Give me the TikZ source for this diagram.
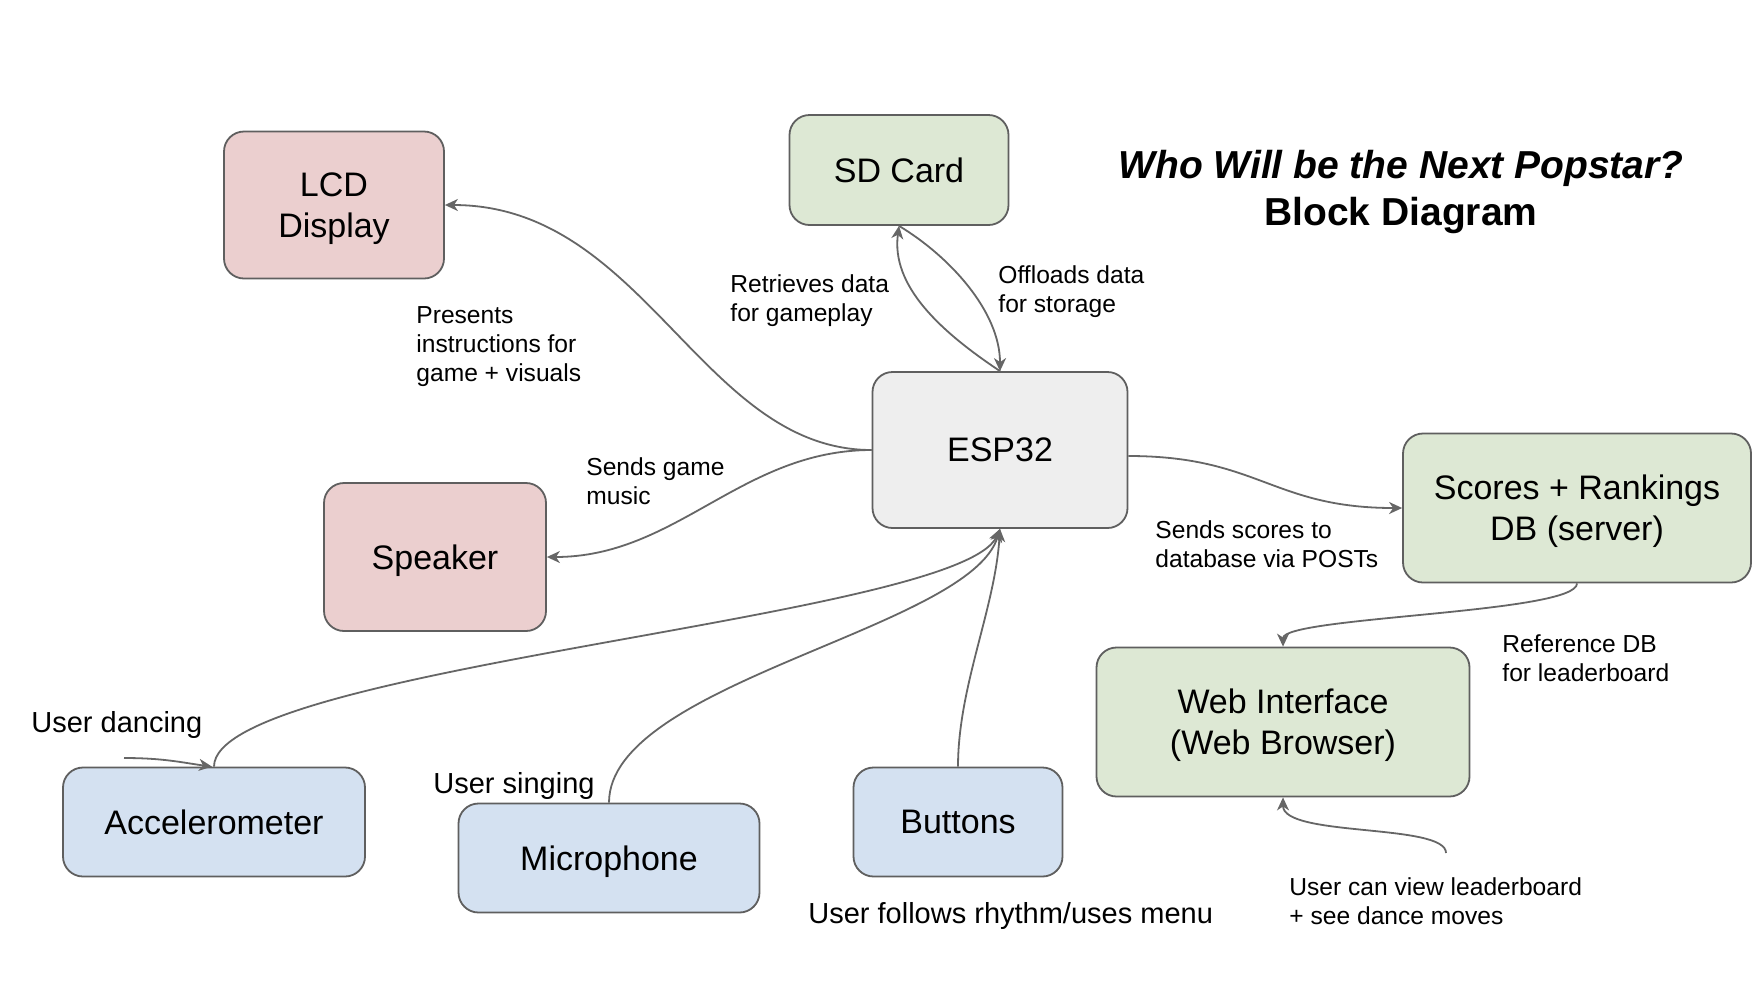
\documentclass[tikz,border=0pt]{standalone}
\usepackage{fontspec}
\setmainfont{Liberation Sans}
\usetikzlibrary{arrows.meta}
\definecolor{pinkfill}{HTML}{EBCFCF}
\definecolor{greenfill}{HTML}{DDE8D4}
\definecolor{bluefill}{HTML}{D4E1F1}
\definecolor{grayfill}{HTML}{EEEEEE}
\definecolor{boxline}{HTML}{5F5F5F}
\definecolor{connline}{HTML}{666666}
\begin{document}
\begin{tikzpicture}[x=0.5pt,y=-0.5pt,
  box/.style={draw=boxline, line width=0.9pt, rounded corners=10pt, inner sep=0pt, align=center,
    text depth=0pt, font=\fontsize{17}{20.5}\selectfont},
  conn/.style={draw=connline, line width=0.9pt, -{Stealth[length=6.5pt,width=6pt,inset=2pt]}},
  lbl/.style={align=left, inner sep=0pt, anchor=west, font=\fontsize{12.3}{14.6}\selectfont},
  ulbl/.style={align=left, inner sep=0pt, anchor=west, font=\fontsize{14.5}{17}\selectfont}]
\useasboundingbox (0,0) rectangle (1764,986);
\fill[white] (0,0) rectangle (1764,986);

% nodes
\node[box, fill=pinkfill, minimum width=110pt, minimum height=73.5pt] (lcd) at (334,205) {LCD\\Display};
\node[box, fill=greenfill, minimum width=109.5pt, minimum height=55pt] (sd) at (899,170) {SD Card};
\node[box, fill=grayfill, minimum width=127.5pt, minimum height=78pt] (esp) at (1000,450) {ESP32};
\node[box, fill=pinkfill, minimum width=111pt, minimum height=74pt] (spk) at (435,557) {Speaker};
\node[box, fill=greenfill, minimum width=174pt, minimum height=74.5pt] (db) at (1577,508) {Scores + Rankings\\DB (server)};
\node[box, fill=greenfill, minimum width=186.5pt, minimum height=74.5pt] (web) at (1283,722) {Web Interface\\(Web Browser)};
\node[box, fill=bluefill, minimum width=151pt, minimum height=54.5pt] (acc) at (214,822) {Accelerometer};
\node[box, fill=bluefill, minimum width=150.5pt, minimum height=54.5pt] (mic) at (609,858) {Microphone};
\node[box, fill=bluefill, minimum width=104.5pt, minimum height=54.5pt] (btn) at (958,822) {Buttons};

% title
\node[align=center, inner sep=0pt, font=\fontsize{19.5}{23.25}\selectfont\bfseries] (title) at (1401,192)
  {\itshape Who Will be the Next Popstar?\\Block Diagram};

% labels
\node[lbl] (lpres) at (416,346.5) {Presents\\instructions for\\game + visuals};
\node[lbl] (lret) at (730,301) {Retrieves data\\for gameplay};
\node[lbl] (loff) at (998,292) {Offloads data\\for storage};
\node[lbl] (lmus) at (586,481) {Sends game\\music};
\node[lbl] (lpost) at (1155,544.5) {Sends scores to\\database via POSTs};
\node[lbl] (lref) at (1502,658) {Reference DB\\for leaderboard};
\node[ulbl] (ldance) at (31,724.5) {User dancing};
\node[ulbl] (lsing) at (433,785.5) {User singing};
\node[ulbl] (lbtn) at (808,915.5) {User follows rhythm/uses menu};
\node[lbl] (lview) at (1289,901.5) {User can view leaderboard\\+ see dance moves};

\coordinate (dancein) at (124,758);
\coordinate (viewin) at (1446,853);

% connectors
\draw[conn] (esp.west) .. controls +(-170,0) and +(200,0) .. (lcd.east);
\draw[conn] (esp.west) .. controls +(-130,0) and +(130,0) .. (spk.east);
\draw[conn] (esp.north) .. controls +(-60,-40) and +(-8,60) .. (sd.south);
\draw[conn] (sd.south) .. controls +(50,30) and +(0,-60) .. (esp.north);
\draw[conn] ([yshift=-3pt]esp.east) .. controls +(130,0) and +(-130,0) .. (db.west);
\draw[conn] (db.south) .. controls +(0,30) and +(0,-30) .. (web.north);
\draw[conn] (acc.north) .. controls +(0,-100) and +(-40,90) .. (esp.south);
\draw[conn] (mic.north) .. controls +(0,-120) and +(-30,100) .. (esp.south);
\draw[conn] (btn.north) .. controls +(0,-80) and +(-5,80) .. (esp.south);
\draw[conn] (dancein) .. controls +(40,0) and +(-30,-4) .. ([xshift=-1pt]acc.north);
\draw[conn] (viewin) .. controls +(0,-30) and +(0,40) .. (web.south);
\end{tikzpicture}
\end{document}
